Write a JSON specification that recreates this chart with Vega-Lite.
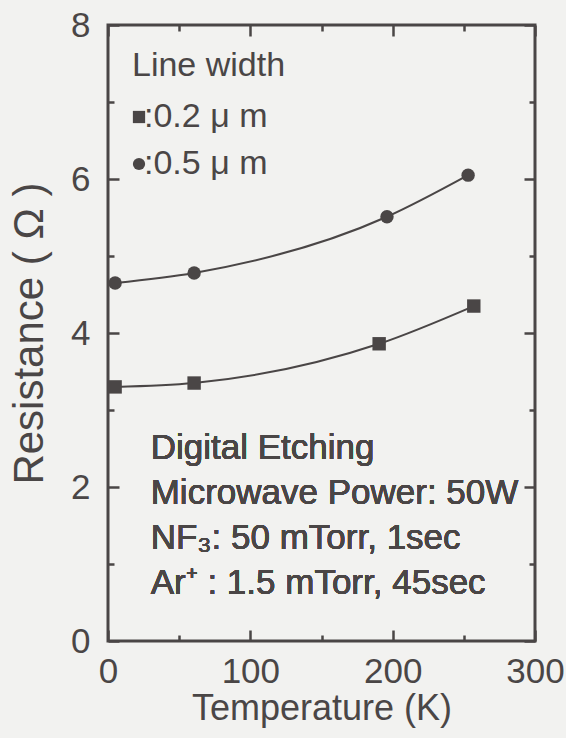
{
  "$schema": "https://vega.github.io/schema/vega-lite/v6.json",
  "width": 427,
  "height": 616,
  "autosize": {"type": "none"},
  "padding": {"left": 108, "top": 25, "right": 31, "bottom": 97},
  "background": "#f2f2f0",
  "config": {
    "font": "Liberation Sans",
    "view": {"stroke": "#4a4646", "strokeWidth": 3},
    "axis": {
      "domain": false,
      "grid": false,
      "tickColor": "#4a4646",
      "tickWidth": 2.5,
      "labelColor": "#4a4646",
      "labelFont": "Liberation Sans",
      "labelFontSize": 35,
      "titleColor": "#4a4646",
      "titleFont": "Liberation Sans",
      "titleFontWeight": "normal"
    }
  },
  "data": {
    "values": [
      {"width": "0.2 μm", "T": 5, "R": 3.30},
      {"width": "0.2 μm", "T": 60.5, "R": 3.35},
      {"width": "0.2 μm", "T": 190.5, "R": 3.86},
      {"width": "0.2 μm", "T": 257, "R": 4.35},
      {"width": "0.5 μm", "T": 5, "R": 4.65},
      {"width": "0.5 μm", "T": 60.5, "R": 4.78},
      {"width": "0.5 μm", "T": 196, "R": 5.51},
      {"width": "0.5 μm", "T": 253, "R": 6.05}
    ]
  },
  "layer": [
    {
      "transform": [{"filter": "datum.width === '0.2 μm'"}],
      "mark": {"type": "line", "interpolate": "monotone", "color": "#4a4646", "strokeWidth": 2},
      "encoding": {
        "x": {
          "field": "T", "type": "quantitative",
          "scale": {"domain": [0, 300], "nice": false},
          "axis": {
            "orient": "bottom",
            "offset": -11,
            "title": "Temperature (K)",
            "titleFontSize": 36,
            "titlePadding": 2,
            "values": [0, 100, 200, 300],
            "tickSize": 11,
            "labelPadding": 13,
            "labelFlush": false
          }
        },
        "y": {
          "field": "R", "type": "quantitative",
          "scale": {"domain": [0, 8], "nice": false},
          "axis": {
            "orient": "left",
            "offset": -11,
            "title": "Resistance ( Ω )",
            "titleFontSize": 42,
            "titlePadding": 19,
            "values": [0, 2, 4, 6, 8],
            "tickSize": 11,
            "labelPadding": 18,
            "labelFlush": false
          }
        }
      }
    },
    {
      "transform": [{"filter": "datum.width === '0.5 μm'"}],
      "mark": {"type": "line", "interpolate": "monotone", "color": "#4a4646", "strokeWidth": 2},
      "encoding": {
        "x": {
          "field": "T", "type": "quantitative",
          "axis": {"orient": "top", "offset": -11, "title": null, "labels": false, "values": [0, 100, 200, 300], "tickSize": 11}
        },
        "y": {
          "field": "R", "type": "quantitative",
          "axis": {"orient": "right", "offset": -11, "title": null, "labels": false, "values": [0, 2, 4, 6, 8], "tickSize": 11}
        }
      }
    },
    {
      "mark": {"type": "point", "filled": true, "opacity": 1, "color": "#4a4646", "size": 180},
      "encoding": {
        "x": {
          "field": "T", "type": "quantitative",
          "axis": {"orient": "bottom", "offset": -6, "title": null, "labels": false, "values": [50, 150, 250], "tickSize": 6}
        },
        "y": {
          "field": "R", "type": "quantitative",
          "axis": {"orient": "left", "offset": -6, "title": null, "labels": false, "values": [1, 3, 5, 7], "tickSize": 6}
        },
        "shape": {
          "field": "width", "type": "nominal",
          "scale": {"domain": ["0.2 μm", "0.5 μm"], "range": ["square", "circle"]},
          "legend": {
            "orient": "top-left",
            "offset": 24,
            "padding": 0,
            "title": "Line width",
            "titleFontSize": 34,
            "titleFontWeight": "normal",
            "titleColor": "#4a4646",
            "titlePadding": 17,
            "titleLimit": 0,
            "labelFontSize": 34,
            "labelColor": "#4a4646",
            "labelOffset": -12,
            "labelLimit": 0,
            "labelExpr": "':' + replace(datum.label, 'μm', 'μ m')",
            "symbolSize": 150,
            "symbolOffset": -10,
            "symbolFillColor": "#4a4646",
            "symbolStrokeWidth": 0,
            "rowPadding": 13
          }
        }
      }
    },
    {
      "mark": {
        "type": "text",
        "align": "left",
        "baseline": "alphabetic",
        "fontSize": 35,
        "lineHeight": 45,
        "color": "#4a4646",
        "font": "Liberation Sans"
      },
      "encoding": {
        "x": {
          "datum": 30, "type": "quantitative",
          "axis": {"orient": "top", "offset": -6, "title": null, "labels": false, "values": [50, 150, 250], "tickSize": 6}
        },
        "y": {
          "datum": 2.36, "type": "quantitative",
          "axis": {"orient": "right", "offset": -6, "title": null, "labels": false, "values": [1, 3, 5, 7], "tickSize": 6}
        },
        "text": {"value": ["Digital Etching", "Microwave Power: 50W", "NF₃: 50 mTorr, 1sec", "Ar⁺ : 1.5 mTorr, 45sec"]}
      }
    }
  ],
  "resolve": {"axis": {"x": "independent", "y": "independent"}}
}
